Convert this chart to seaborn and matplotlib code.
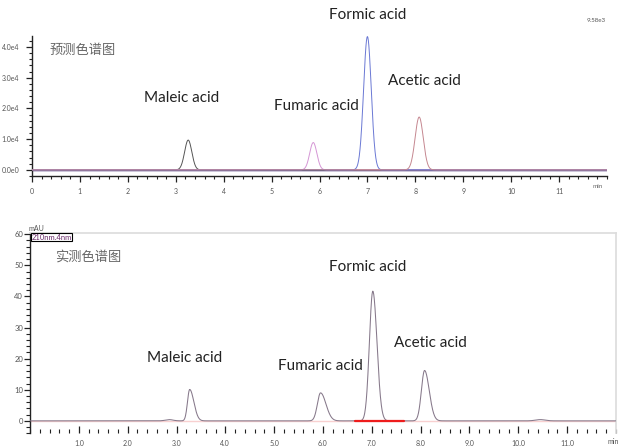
import numpy as np
import pandas as pd
import matplotlib
matplotlib.use("Agg")
import matplotlib.pyplot as plt
import seaborn as sns
from matplotlib.ticker import MultipleLocator

sns.set_theme(style="white")
plt.rcParams['font.family'] = ['Lato', 'Noto Sans CJK SC', 'DejaVu Sans']

# ---- data: predicted chromatogram (top) ----
pred_names = ["Maleic acid", "Fumaric acid", "Formic acid", "Acetic acid"]
pred_rt = [3.26, 5.87, 7.00, 8.08]          # min
pred_height = [0.97e4, 0.89e4, 4.34e4, 1.72e4]
pred_sigma = [0.075, 0.075, 0.08, 0.085]
pred_colors = ["#555555", "#d596d5", "#6a78d4", "#c58790"]

# ---- data: measured chromatogram (bottom) ----
meas_rt = [2.85, 3.27, 5.95, 7.02, 8.08, 10.45]
meas_height = [0.4, 10.1, 9.0, 41.7, 16.2, 0.4]
meas_sigma_left = [0.08, 0.045, 0.065, 0.07, 0.065, 0.1]
meas_sigma_right = [0.08, 0.085, 0.11, 0.085, 0.095, 0.1]
meas_label_names = ["Maleic acid", "Fumaric acid", "Formic acid", "Acetic acid"]
red_base = [6.66, 7.66]

x_ticks_top = list(range(0, 12))
y_ticks_top = [0, 1e4, 2e4, 3e4, 4e4]
y_ticklabels_top = ["0.0e0", "1.0e4", "2.0e4", "3.0e4", "4.0e4"]
x_ticks_bot = [1.0, 2.0, 3.0, 4.0, 5.0, 6.0, 7.0, 8.0, 9.0, 10.0, 11.0]
y_ticks_bot = [0, 10, 20, 30, 40, 50, 60]

t = np.linspace(0, 12, 2401)

fig = plt.figure(figsize=(6.22, 4.48), dpi=100)
ax1 = fig.add_axes([32/622, 1-176/448, 575/622, 140/448])
ax2 = fig.add_axes([30/622, 1-433.3/448, 586/622, 200.6/448])

# ---------------- top panel ----------------
frames = []
for name, rt, h, s in zip(pred_names, pred_rt, pred_height, pred_sigma):
    frames.append(pd.DataFrame({"t": t, "y": h*np.exp(-0.5*((t-rt)/s)**2), "name": name}))
df_top = pd.concat(frames)
ax1.axhline(-450, color="#dcd6ea", lw=1.4, zorder=1)
sns.lineplot(data=df_top, x="t", y="y", hue="name", palette=dict(zip(pred_names, pred_colors)),
             lw=0.7, legend=False, ax=ax1, zorder=3, estimator=None)
ax1.axhline(0, color="#5f5670", lw=0.9, zorder=2)
ax1.set_xlim(0, 12.0)
ax1.set_ylim(-0.2e4, 4.36e4)
for sp in ["top", "right"]:
    ax1.spines[sp].set_visible(False)
ax1.spines["left"].set_color("#222222")
ax1.spines["bottom"].set_color("#222222")
ax1.spines["left"].set_linewidth(1.0)
ax1.spines["bottom"].set_linewidth(1.0)
ax1.set_xticks(x_ticks_top)
ax1.set_xticklabels([str(v) for v in x_ticks_top])
ax1.set_yticks(y_ticks_top)
ax1.set_yticklabels(y_ticklabels_top)
ax1.xaxis.set_minor_locator(MultipleLocator(0.2))
ax1.yaxis.set_minor_locator(MultipleLocator(0.2e4))
ax1.tick_params(axis="both", which="major", direction="out", length=4, width=0.9,
                labelsize=5, colors="#222222", labelcolor="#555555", pad=5)
ax1.tick_params(axis="both", which="minor", direction="out", length=2.5, width=0.8, colors="#222222")
ax1.tick_params(axis="x", which="both", bottom=True)
ax1.tick_params(axis="y", which="both", left=True)
ax1.set_xlabel("")
ax1.set_ylabel("")
ax1.text(50/622, 1-50/448, "预测色谱图", transform=fig.transFigure, fontsize=9.5,
         color="#666666", va="center", ha="left")
ax1.text(606/622, 1-20/448, "9.58e3", transform=fig.transFigure, fontsize=4.5,
         color="#555555", va="center", ha="right")
ax1.text(598/622, 1-186/448, "min", transform=fig.transFigure, fontsize=4.5,
         color="#666666", va="center", ha="center")
top_label_pos = [(182, 98), (316, 106), (368, 15), (424, 81)]
for name, (px, py) in zip(pred_names, top_label_pos):
    ax1.text(px/622, 1-py/448, name, transform=fig.transFigure, fontsize=11,
             color="#222222", ha="center", va="center")

# ---------------- bottom panel ----------------
y = np.zeros_like(t)
for rt, h, sl, sr in zip(meas_rt, meas_height, meas_sigma_left, meas_sigma_right):
    s = np.where(t < rt, sl, sr)
    y = y + h*np.exp(-0.5*((t-rt)/s)**2)
df_bot = pd.DataFrame({"t": t, "y": y})
ax2.axhline(0, color="#f8d0d0", lw=1.0, zorder=1)
sns.lineplot(data=df_bot, x="t", y="y", color="#86788a", lw=0.75, ax=ax2, zorder=3, estimator=None)
ax2.plot(red_base, [0, 0], color="#ee1c1c", lw=1.6, zorder=4)
ax2.set_xlim(0, 12.0)
ax2.set_ylim(-4, 60.5)
ax2.spines["top"].set_visible(True)
ax2.spines["right"].set_visible(True)
ax2.spines["top"].set_color("#dddddd")
ax2.spines["right"].set_color("#dddddd")
ax2.spines["bottom"].set_visible(False)
ax2.spines["left"].set_color("#222222")
ax2.spines["left"].set_linewidth(1.0)
ax2.set_xticks(x_ticks_bot)
ax2.set_xticklabels([f"{v:.1f}" for v in x_ticks_bot])
ax2.set_yticks(y_ticks_bot)
ax2.set_yticklabels([str(v) for v in y_ticks_bot])
ax2.xaxis.set_minor_locator(MultipleLocator(0.2))
ax2.yaxis.set_minor_locator(MultipleLocator(2))
ax2.tick_params(axis="x", which="major", direction="in", length=5, width=0.9,
                labelsize=5, colors="#222222", labelcolor="#555555", pad=5, bottom=True)
ax2.tick_params(axis="x", which="minor", direction="in", length=3, width=0.8, colors="#222222", bottom=True)
ax2.tick_params(axis="y", which="major", direction="out", length=4, width=0.9,
                labelsize=5.5, colors="#222222", labelcolor="#555555", pad=1, left=True)
ax2.tick_params(axis="y", which="minor", direction="out", length=3, width=0.8, colors="#222222", left=True)
ax2.set_xlabel("")
ax2.set_ylabel("")
fig.text(36/622, 1-228.5/448, "mAU", fontsize=5, color="#555555", ha="center", va="center")
fig.text(31.5/622, 1-237/448, "210nm.4nm", fontsize=5.5, color="#6a2a6a", ha="left", va="center",
         bbox=dict(boxstyle="square,pad=0.05", fc="white", ec="black", lw=0.8))
fig.text(613/622, 1-441/448, "min", fontsize=5, color="#555555", ha="center", va="center")
fig.text(55/622, 1-256/448, "实测色谱图", fontsize=9.5, color="#666666", ha="left", va="center")
bot_label_pos = [(185, 358), (320, 366), (368, 267), (430, 343)]
for name, (px, py) in zip(meas_label_names, bot_label_pos):
    fig.text(px/622, 1-py/448, name, fontsize=11, color="#222222", ha="center", va="center")

fig.savefig("out.png", dpi=100)
